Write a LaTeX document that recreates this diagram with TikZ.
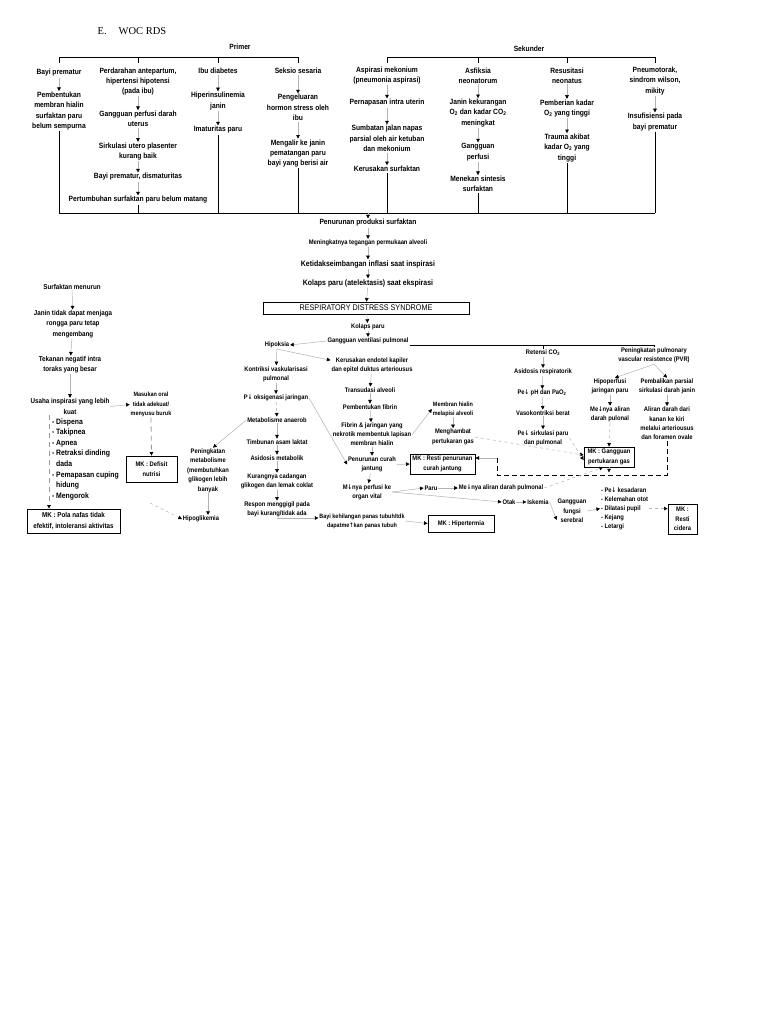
\documentclass[tikz,border=0pt]{standalone}
\usepackage{fontspec}
\setmainfont{Liberation Sans}[FakeStretch=0.88]
\newfontfamily\serifT{Liberation Serif}
\newfontfamily\djf{DejaVu Sans}[FakeStretch=0.8]
\newcommand\dnarr{{\djf\char"2193}}
\newcommand\uparr{{\djf\char"2191}}
\usetikzlibrary{arrows.meta}
\begin{document}
\begin{tikzpicture}[x=1pt,y=-1pt,
  ta/.style={align=center, inner sep=0.8pt, font=\fontsize{7.6}{10.3}\selectfont\bfseries},
  tb/.style={align=center, inner sep=0.8pt, font=\fontsize{7.1}{10.2}\selectfont\bfseries},
  tc/.style={align=center, inner sep=0.8pt, font=\fontsize{6.6}{9.4}\selectfont\bfseries},
  td/.style={align=center, inner sep=0.8pt, font=\fontsize{6.2}{9.2}\selectfont\bfseries},
  box/.style={draw=black, line width=0.8pt, inner xsep=2pt, inner ysep=1.5pt},
  arr/.style={draw=gray!60, line width=0.5pt, -{Triangle[length=3.6pt,width=3.6pt,color=black]}},
  darr/.style={arr, dashed},
  brk/.style={draw=black, line width=0.8pt},
  dbrk/.style={draw=black, line width=0.9pt, dash pattern=on 5pt off 3pt}]
\useasboundingbox (0,0) rectangle (768,1024);
\fill[white] (0,0) rectangle (768,1024);

% title
\node[inner sep=0, font=\serifT\fontsize{10.5}{12}\selectfont] (ttl) at (132,31) {E.\hspace{12pt}WOC RDS};

% ---------- Primer ----------
\node[ta] (prim) at (240,47) {Primer};
\draw[brk] (59,63) -- (59,57) -- (298,57) -- (298,63);
\draw[brk] (138,57) -- (138,63);
\draw[brk] (218,57) -- (218,63);

\node[ta] (c1a) at (59,73) {Bayi prematur};
\node[ta] (c1b) at (59,111) {Pembentukan\\membran hialin\\surfaktan paru\\belum sempurna};
\node[ta] (c2a) at (138,81.5) {Perdarahan antepartum,\\hipertensi hipotensi\\(pada ibu)};
\node[ta] (c2b) at (138,119) {Gangguan perfusi darah\\uterus};
\node[ta] (c2c) at (138,151.5) {Sirkulasi utero plasenter\\kurang baik};
\node[ta] (c2d) at (138,177) {Bayi prematur, dismaturitas};
\node[ta] (c2e) at (138,200) {Pertumbuhan surfaktan paru belum matang};
\node[ta] (c3a) at (218,71) {Ibu diabetes};
\node[ta] (c3b) at (218,101) {Hiperinsulinemia\\janin};
\node[ta] (c3c) at (218,130) {Imaturitas paru};
\node[ta] (c4a) at (298,71) {Seksio sesaria};
\node[ta] (c4b) at (298,107.5) {Pengeluaran\\hormon stress oleh\\ibu};
\node[ta] (c4c) at (298,153.5) {Mengalir ke janin\\pematangan paru\\bayi yang berisi air};

\draw[arr] (c1a) -- (c1b);
\draw[arr] (c2a) -- (c2b);
\draw[arr] (c2b) -- (c2c);
\draw[arr] (c2c) -- (c2d);
\draw[arr] (c2d) -- (c2e);
\draw[arr] (c3a) -- (c3b);
\draw[arr] (c3b) -- (c3c);
\draw[arr] (c4a) -- (c4b);
\draw[arr] (c4b) -- (c4c);

% ---------- Sekunder ----------
\node[ta] (sek) at (529,49) {Sekunder};
\draw[brk] (387,63) -- (387,57) -- (655,57) -- (655,63);
\draw[brk] (478,57) -- (478,63);
\draw[brk] (567,57) -- (567,63);

\node[ta] (c5a) at (387,75.5) {Aspirasi mekonium\\(pneumonia aspirasi)};
\node[ta] (c5b) at (387,103) {Pernapasan intra uterin};
\node[ta] (c5c) at (387,138.5) {Sumbatan jalan napas\\parsial oleh air ketuban\\dan mekonium};
\node[ta] (c5d) at (387,169) {Kerusakan surfaktan};
\node[ta] (c6a) at (478,75.5) {Asfiksia\\neonatorum};
\node[ta] (c6b) at (478,113) {Janin kekurangan\\O\textsubscript{2} dan kadar CO\textsubscript{2}\\meningkat};
\node[ta] (c6c) at (478,152) {Gangguan\\perfusi};
\node[ta] (c6d) at (478,184) {Menekan sintesis\\surfaktan};
\node[ta] (c7a) at (567,75.5) {Resusitasi\\neonatus};
\node[ta] (c7b) at (567,108.5) {Pemberian kadar\\O\textsubscript{2} yang tinggi};
\node[ta] (c7c) at (567,148) {Trauma akibat\\kadar O\textsubscript{2} yang\\tinggi};
\node[ta] (c8a) at (655,81) {Pneumotorak,\\sindrom wilson,\\mikity};
\node[ta] (c8b) at (655,122) {Insufisiensi pada\\bayi prematur};

\draw[arr] (c5a) -- (c5b);
\draw[arr] (c5b) -- (c5c);
\draw[arr] (c5c) -- (c5d);
\draw[arr] (c6a) -- (c6b);
\draw[arr] (c6b) -- (c6c);
\draw[arr] (c6c) -- (c6d);
\draw[arr] (c7a) -- (c7b);
\draw[arr] (c7b) -- (c7c);
\draw[arr] (c8a) -- (c8b);

% bottom bar
\draw[brk] (59,213) -- (655,213);
\foreach \n in {c1b,c2e,c3c,c4c,c5d,c6d,c7c,c8b}
  \draw[brk] (\n.south) -- (\n.south |- 0,213);

% ---------- main chain ----------
\coordinate (bm) at (368,213);
\node[ta] (m1) at (368,223) {Penurunan produksi surfaktan};
\node[tc] (m2) at (368,243) {Meningkatnya tegangan permukaan alveoli};
\node[tb, font=\fontsize{7.9}{10}\selectfont\bfseries] (m3) at (368,264) {Ketidakseimbangan inflasi saat inspirasi};
\node[tb, font=\fontsize{7.9}{10}\selectfont\bfseries] (m4) at (368,283) {Kolaps paru (atelektasis) saat ekspirasi};
\node[box, align=center, line width=0.7pt, minimum width=206pt, minimum height=12pt, inner ysep=0.5pt, font=\fontsize{8.2}{9}\selectfont] (rds) at (366,308) {RESPIRATORY DISTRESS SYNDROME};
\node[tc] (m5) at (368,327) {Kolaps paru};
\node[tc] (m6) at (368,341) {Gangguan ventilasi pulmonal};
\draw[arr] (bm) -- (m1);
\draw[arr] (m1) -- (m2);
\draw[arr] (m2) -- (m3);
\draw[arr] (m3) -- (m4);
\draw[arr] (m4) -- (rds);
\draw[arr] (rds) -- (m5);
\draw[arr] (m5) -- (m6);

% ---------- left chain ----------
\node[tb] (l1) at (72,287) {Surfaktan menurun};
\node[tb] (l2) at (73,324) {Janin tidak dapat menjaga\\rongga paru tetap\\mengembang};
\node[tb] (l3) at (70,365) {Tekanan negatif intra\\toraks yang besar};
\node[tb] (l4) at (70,406.5) {Usaha inspirasi yang lebih\\kuat};
\node[ta, align=left, anchor=north west, font=\fontsize{7.8}{10.6}\selectfont\bfseries] (lst1) at (51,417.5)
  {- Dispena\\- Takipnea\\- Apnea\\- Retraksi dinding\\\phantom{- }dada\\- Pemapasan cuping\\\phantom{- }hidung\\- Mengorok};
\node[tb, box, align=center, minimum width=93pt, minimum height=24pt, inner ysep=1pt] (mkp) at (73.5,521) {MK : Pola nafas tidak\\efektif, intoleransi aktivitas};
\node[td] (mas) at (151,404.5) {Masukan oral\\tidak adekuat/\\menyusu buruk};
\node[tc, box, align=center, minimum width=51pt, minimum height=26pt] (mkd) at (151.5,469) {MK : Defisit\\nutrisi};
\draw[arr] (l1) -- (l2);
\draw[arr] (l2) -- (l3);
\draw[arr] (l3) -- (l4);
\draw[arr] (l4.east) -- (mas.west);
\draw[darr, draw=gray!80, line width=0.8pt, dash pattern=on 5pt off 4pt] ([xshift=-21pt]l4.south) -- ([xshift=-21pt]l4.south |- mkp.north);
\draw[darr, draw=gray!80, line width=0.8pt, dash pattern=on 5pt off 4pt] (mas.south) -- (mkd.north);

% ---------- middle left ----------
\node[tc] (hip) at (277,345) {Hipoksia};
\node[tc] (kon) at (276,374) {Kontriksi vaskularisasi\\pulmonal};
\node[tc] (pok) at (276,398) {P\dnarr{} oksigenasi jaringan};
\node[tc] (met) at (277,420) {Metabolisme anaerob};
\node[tc] (tim) at (277,442) {Timbunan asam laktat};
\node[tc] (asi) at (277,458) {Asidosis metabolik};
\node[tc] (kur) at (277,481.5) {Kurangnya cadangan\\glikogen dan lemak coklat};
\node[tc] (res) at (277,509.5) {Respon menggigil pada\\bayi kurang/tidak ada};
\node[tc] (pen) at (208,470.5) {Peningkatan\\metabolisme\\(membutuhkan\\glikogen  lebih\\banyak};
\node[tc] (hipo) at (201,519) {Hipoglikemia};
\coordinate (hs) at (150,503);
\node[td] (bay) at (362,521) {Bayi kehilangan panas tubuh/tdk\\dapatme\uparr{}kan panas tubuh};
\node[tc, box, align=center, minimum width=66pt, minimum height=17pt] (mkh) at (461,523.5) {MK : Hipertermia};

\draw[arr] (m6.west) -- (hip.east);
\draw[arr] (hip) -- (kon);
\draw[arr] (kon) -- (pok);
\draw[arr, dashed] (pok) -- (met);
\draw[arr] (met) -- (tim);
\draw[arr] (tim) -- (asi);
\draw[arr] (asi) -- (kur);
\draw[arr] (kur) -- (res);
\draw[arr] (met.west) -- ([xshift=5pt]pen.north);
\draw[arr] (pen.south) -- (pen.south |- hipo.north);
\draw[darr] (hs) -- (hipo.west);
\draw[arr] (res.south) |- ([yshift=3pt]bay.west);
\draw[arr] (bay.east) -- (mkh.west);

% ---------- middle column ----------
\node[tc] (ker) at (372,365) {Kerusakan endotel kapiler\\dan epitel duktus arteriousus};
\node[tc] (tra) at (370,390) {Transudasi alveoli};
\node[tc] (pfb) at (370,407) {Pembentukan fibrin};
\node[tc, font=\fontsize{6.6}{9}\selectfont\bfseries] (fib) at (372,434.5) {Fibrin \& jaringan yang\\nekrotik membentuk lapisan\\membran hialin};
\node[tc] (pcj) at (372,464.5) {Penurunan curah\\jantung};
\node[tc] (mpo) at (367,492) {M\dnarr{}nya perfusi ke\\organ vital};
\node[tc, box, align=center, minimum width=65pt, minimum height=20pt, inner ysep=0.5pt] (mkr) at (442.5,464) {MK : Resti penurunan\\curah jantung};
\node[td] (mem) at (453,409) {Membran hialin\\melapisi alveoli};
\node[tc] (mgh) at (453,437) {Menghambat\\pertukaran gas};

\draw[arr] (hip.south) -- ([yshift=-4pt]ker.north west);
\draw[arr] (ker) -- (tra);
\draw[arr] (tra) -- (pfb);
\draw[arr] (pfb) -- (fib);
\draw[arr] (fib) -- (pcj);
\draw[arr] (pcj) -- (mpo);
\draw[arr] (pok.east) -- (pcj.west);
\draw[arr] (pcj.east) -- (mkr.west);
\draw[arr] (fib.east) -- (mem.west);
\draw[arr] (mem) -- (mgh);

% ---------- right part ----------
\node[tc] (ret) at (543,353) {Retensi CO\textsubscript{2}};
\node[tc] (asr) at (543,372) {Asidosis respiratorik};
\node[tc] (pph) at (542,393) {Pe\dnarr{} pH dan PaO\textsubscript{2}};
\node[tc] (vas) at (543,413) {Vasokontriksi berat};
\node[tc] (psp) at (543,438) {Pe\dnarr{} sirkulasi paru\\dan pulmonal};
\node[tc] (pvr) at (654,355.5) {Peningkatan pulmonary\\vascular resistence (PVR)};
\node[tc] (hpf) at (610,386.5) {Hipoperfusi\\jaringan paru};
\node[tc] (pmb) at (667,386.5) {Pembalikan parsial\\sirkulasi darah janin};
\node[tc] (mna) at (610,414.5) {Me\dnarr{}nya aliran\\darah pulonal};
\node[tc] (ali) at (667,423.5) {Aliran darah dari\\kanan ke kiri\\melalui arteriousus\\dan foramen ovale};
\node[tc, box, align=center, minimum width=50pt, minimum height=20pt, inner ysep=0.5pt] (mkg) at (609,457) {MK : Gangguan\\pertukaran gas};

\draw[brk] (m6.south east) -- (m6.south east -| pvr.north) -- (pvr.north);
\draw[brk] (ret.north |- m6.south east) -- (ret.north);
\draw[arr] (ret) -- (asr);
\draw[arr] (asr) -- (pph);
\draw[arr] (pph) -- (vas);
\draw[arr] (vas) -- (psp);
\draw[arr] (pvr.south) -- ([xshift=5pt]hpf.north);
\draw[arr] (pvr.south) -- (pmb.north);
\draw[arr] (hpf) -- (mna);
\draw[arr] (pmb) -- (ali);
\draw[darr] (mna.south) -- (mkg.north);
\draw[darr] (mgh.east) -- ([yshift=2pt]mkg.west);
\draw[darr] (psp.east) -- ([yshift=-3pt]mkg.west);

% dashed bracket to MK resti
\coordinate (bk1) at (497,475);
\coordinate (bk2) at (497,458);
\draw[dbrk] (ali.south) -- (ali.south |- bk1) -- (bk1) -- (bk2);
\draw[arr] (bk2) -- (mkr.east |- bk2);
\draw[arr] (mkg.south) -- ++(0,5);

% ---------- bottom row ----------
\node[tc] (paru) at (431,488) {Paru};
\node[tc] (mnd) at (501,488) {Me\dnarr{}nya aliran darah pulmonal};
\node[tc] (otk) at (509,502) {Otak};
\node[tc] (isk) at (538,502) {Iskemia};
\node[tc] (gfs) at (572,511) {Gangguan\\fungsi\\serebral};
\node[tc, align=left, anchor=north west, font=\fontsize{6.6}{9}\selectfont\bfseries] (lst2) at (600,486.5)
  {- Pe\dnarr{} kesadaran\\- Kelemahan otot\\- Dilatasi pupil\\- Kejang\\- Letargi};
\node[tc, box, align=center, minimum width=29pt, minimum height=30pt, inner ysep=0.5pt] (mkc) at (682.5,519) {MK :\\Resti\\cidera};

\draw[arr] (mpo.east) -- (paru.west);
\draw[arr] (paru.east) -- (mnd.west);
\draw[arr] (mpo.east) -- (otk.west);
\draw[arr] (otk.east) -- (isk.west);
\draw[arr] (isk.east) -- ([yshift=-9pt]gfs.west);
\draw[darr] (mnd.east) -- ([xshift=-6pt]mkg.south);
\draw[arr] (gfs.east) -- (lst2.west);
\draw[darr] (lst2.east) -- (mkc.west |- lst2.east);
\end{tikzpicture}
\end{document}
